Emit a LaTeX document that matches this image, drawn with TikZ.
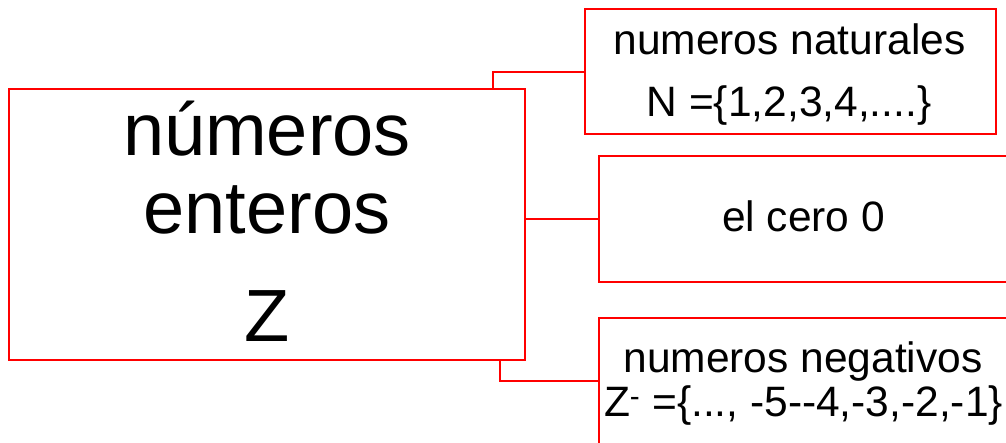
\documentclass[tikz,border=0pt]{standalone}
\usepackage{fontspec}
\setmainfont{Liberation Sans}
\begin{document}
\begin{tikzpicture}[x=1pt,y=-1pt,
  box/.style={draw=red, line width=2pt, inner sep=0pt, anchor=north west},
  link/.style={draw=red, line width=2pt},
  big/.style={font=\fontsize{74}{80}\selectfont, anchor=base, inner sep=0pt},
  small/.style={font=\fontsize{42.5}{46}\selectfont, anchor=base, inner sep=0pt}]
\useasboundingbox (0,0) rectangle (1006,442);
\clip (0,0) rectangle (1006,442);
\node[box, minimum width=516pt, minimum height=271pt] (ent) at (8,88) {};
\node[box, minimum width=411pt, minimum height=125pt] (nat) at (584,8) {};
\node[box, minimum width=430pt, minimum height=126pt] (cero) at (598,155) {};
\node[box, minimum width=430pt, minimum height=200pt] (neg) at (598,317) {};
\coordinate (negin) at (598,381);
\node[big] (t1) at (267,155) {números};
\node[big] (t2) at (267,233) {enteros};
\node[big] (t3) at (267,341) {Z};
\node[small] (n1) at (789.5,54) {numeros naturales};
\node[small] (n2) at (789,116) {N =\{1,2,3,4,....\}};
\node[small] (c1) at (803.5,231) {el cero 0};
\node[small] (g1) at (803,372) {numeros negativos};
\node[small] (g2) at (803.5,416) {Z\textsuperscript{-} =\{..., -5-{}-4,-3,-2,-1\}};
\draw[link] (nat.west) -| (493,0 |- ent.north);
\draw[link] (ent.east |- cero.west) -- (cero.west);
\draw[link] (500,0 |- ent.south) |- (negin);
\end{tikzpicture}
\end{document}
